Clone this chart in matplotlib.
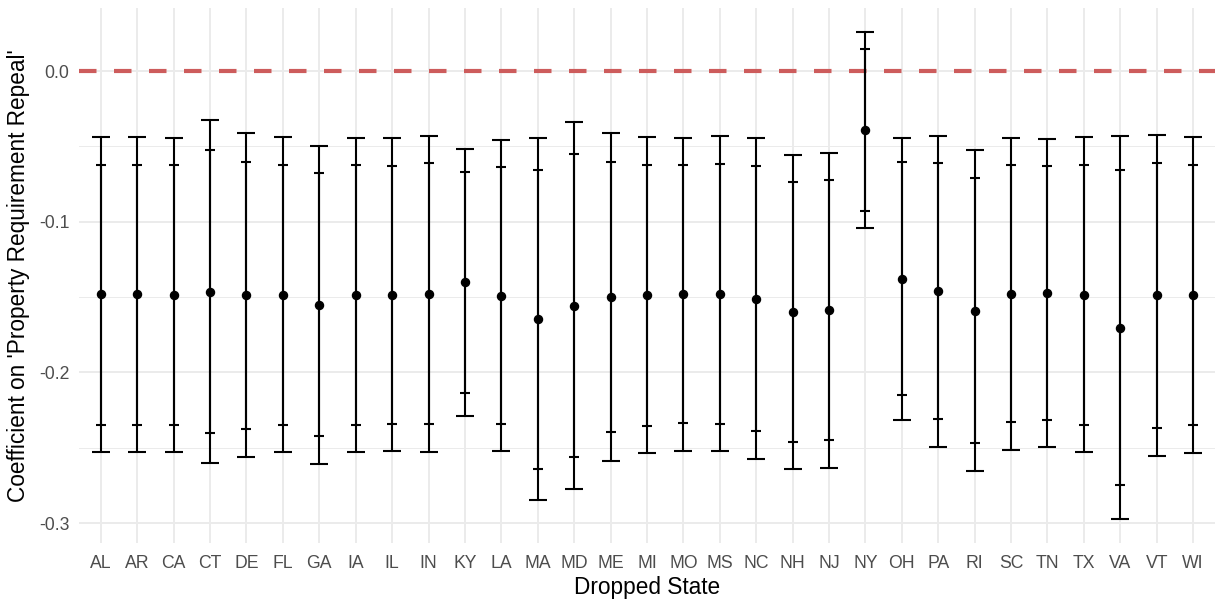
import matplotlib
matplotlib.use("Agg")
import matplotlib.pyplot as plt
import numpy as np
from matplotlib.ticker import MultipleLocator

states = ["AL", "AR", "CA", "CT", "DE", "FL", "GA", "IA", "IL", "IN", "KY", "LA",
          "MA", "MD", "ME", "MI", "MO", "MS", "NC", "NH", "NJ", "NY", "OH", "PA",
          "RI", "SC", "TN", "TX", "VA", "VT", "WI"]

coef = [-0.1482, -0.1482, -0.1484, -0.1464, -0.1486, -0.1484, -0.1553, -0.1486,
        -0.1486, -0.1480, -0.1402, -0.1491, -0.1646, -0.1557, -0.1502, -0.1486,
        -0.1480, -0.1480, -0.1511, -0.1599, -0.1588, -0.0389, -0.1378, -0.1462,
        -0.1590, -0.1477, -0.1473, -0.1484, -0.1703, -0.1489, -0.1484]

# 90% interval (inner)
ci90_low = [-0.2347, -0.2347, -0.2349, -0.2404, -0.2376, -0.2347, -0.2424, -0.2349,
            -0.2342, -0.2342, -0.2139, -0.2340, -0.2639, -0.2559, -0.2398, -0.2354,
            -0.2338, -0.2342, -0.2391, -0.2460, -0.2449, -0.0927, -0.2150, -0.2311,
            -0.2468, -0.2331, -0.2314, -0.2349, -0.2749, -0.2369, -0.2349]
ci90_high = [-0.0622, -0.0622, -0.0624, -0.0524, -0.0602, -0.0622, -0.0679, -0.0624,
             -0.0628, -0.0613, -0.0668, -0.0639, -0.0657, -0.0553, -0.0604, -0.0622,
             -0.0624, -0.0619, -0.0630, -0.0739, -0.0725, 0.0146, -0.0606, -0.0613,
             -0.0712, -0.0624, -0.0633, -0.0622, -0.0657, -0.0613, -0.0624]

# 95% interval (outer)
ci95_low = [-0.2528, -0.2530, -0.2530, -0.2603, -0.2563, -0.2530, -0.2610, -0.2530,
            -0.2524, -0.2526, -0.2291, -0.2522, -0.2847, -0.2772, -0.2588, -0.2535,
            -0.2520, -0.2524, -0.2577, -0.2641, -0.2632, -0.1042, -0.2316, -0.2493,
            -0.2654, -0.2513, -0.2493, -0.2530, -0.2973, -0.2557, -0.2533]
ci95_high = [-0.0438, -0.0438, -0.0442, -0.0323, -0.0411, -0.0438, -0.0496, -0.0442,
             -0.0447, -0.0429, -0.0515, -0.0460, -0.0447, -0.0341, -0.0414, -0.0438,
             -0.0445, -0.0433, -0.0445, -0.0555, -0.0542, 0.0259, -0.0442, -0.0431,
             -0.0524, -0.0442, -0.0451, -0.0438, -0.0433, -0.0425, -0.0440]

y_ticks = [0.0, -0.1, -0.2, -0.3]
y_tick_labels = ["0.0", "-0.1", "-0.2", "-0.3"]

plt.rcParams["font.family"] = ["Liberation Sans", "DejaVu Sans"]

fig = plt.figure(figsize=(12.25, 6.03), dpi=100)
ax = fig.add_axes([0.0645, 0.0988, 0.9273, 0.8886])

x = np.arange(len(states))
coef_a = np.array(coef)

ax.axhline(0, color="#CD5C5C", lw=3.0, dashes=(4.2, 4.2), zorder=2)

ax.errorbar(x, coef_a,
            yerr=[coef_a - np.array(ci95_low), np.array(ci95_high) - coef_a],
            fmt="none", ecolor="black", elinewidth=1.5, capsize=6.5, capthick=1.5, zorder=3)
ax.errorbar(x, coef_a,
            yerr=[coef_a - np.array(ci90_low), np.array(ci90_high) - coef_a],
            fmt="none", ecolor="black", elinewidth=1.5, capsize=3.6, capthick=1.5, zorder=3)
ax.plot(x, coef_a, "o", color="black", markersize=5.8, zorder=4)

ax.set_xlim(-0.6, len(states) - 1 + 0.6)
ax.set_ylim(-0.3135, 0.0421)
ax.set_xticks(x)
ax.set_xticklabels(states)
ax.set_yticks(y_ticks)
ax.set_yticklabels(y_tick_labels)
ax.yaxis.set_minor_locator(MultipleLocator(0.05))

ax.grid(True, which="major", color="#EBEBEB", lw=1.4, zorder=0)
ax.grid(True, which="minor", axis="y", color="#EBEBEB", lw=0.7, zorder=0)
ax.set_axisbelow(True)
for s in ax.spines.values():
    s.set_visible(False)
ax.tick_params(axis="both", which="both", length=0, labelsize=12.7, labelcolor="#4D4D4D")
ax.tick_params(axis="x", pad=8)
ax.tick_params(axis="y", pad=7)

ax.set_xlabel("Dropped State", fontsize=16.3, color="black", labelpad=3)
ax.set_ylabel("Coefficient on 'Property Requirement Repeal'", fontsize=16.3, color="black", labelpad=6)

fig.savefig("out.png", dpi=100, facecolor="white")
